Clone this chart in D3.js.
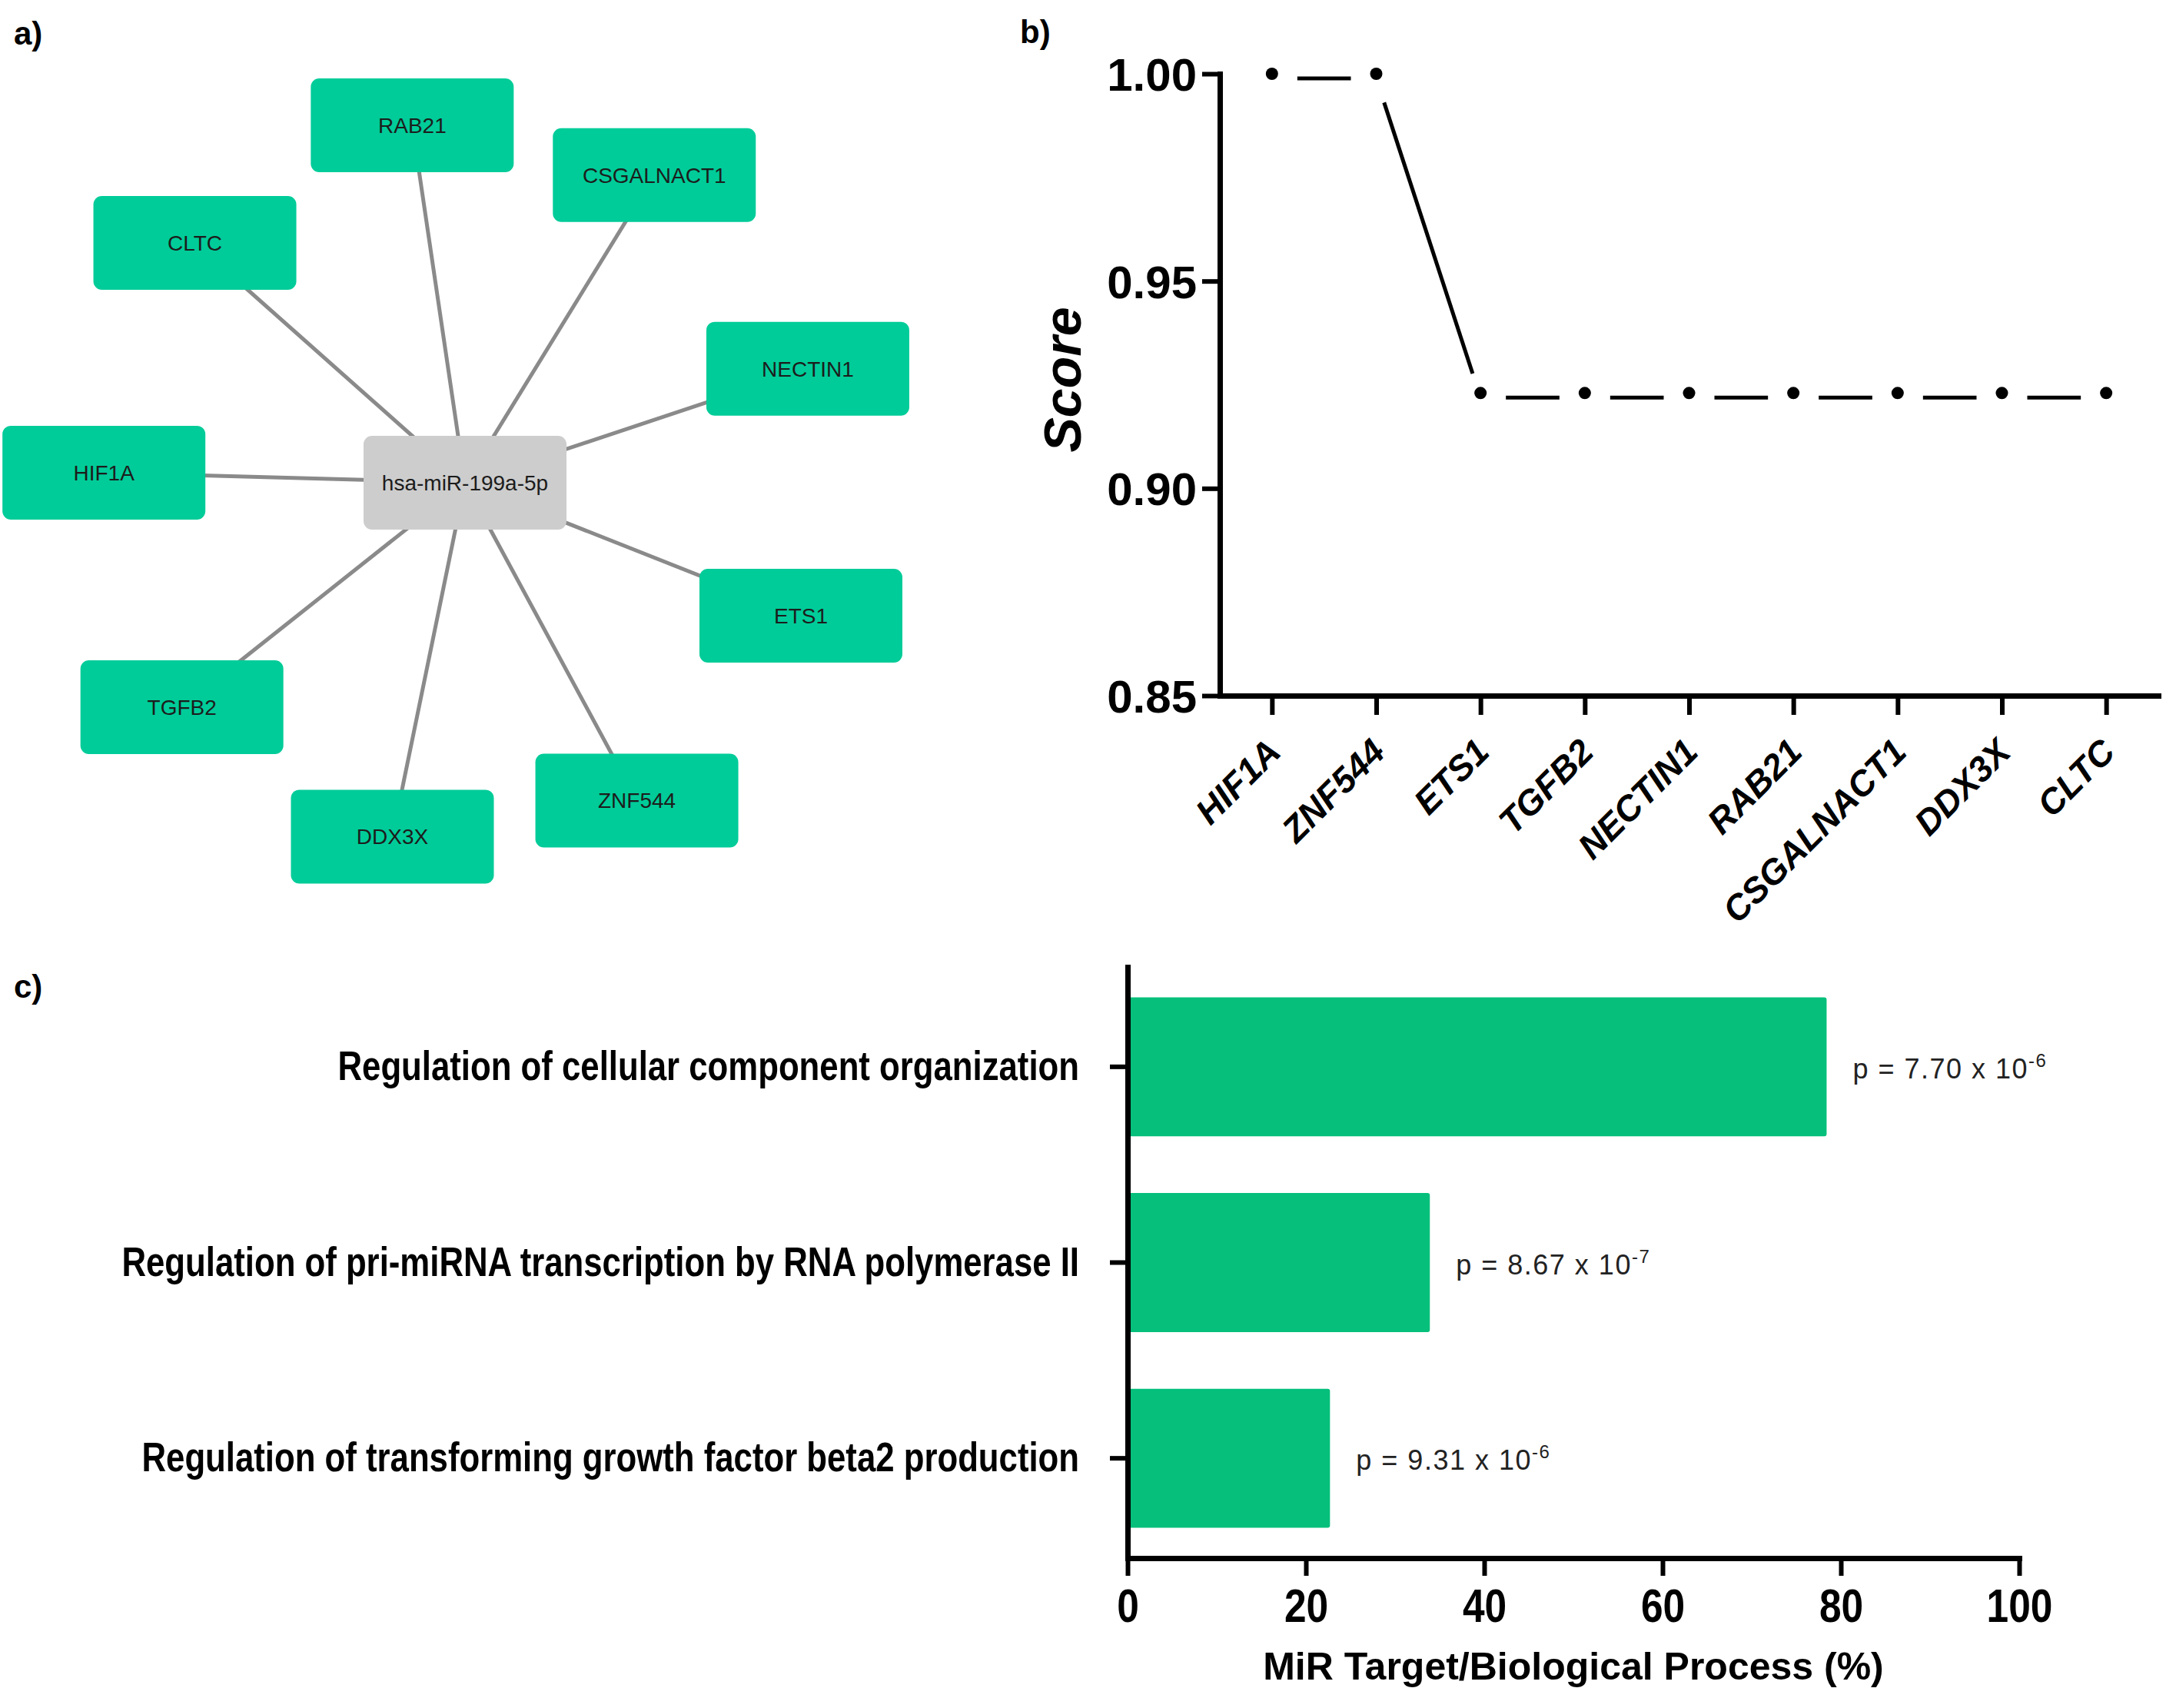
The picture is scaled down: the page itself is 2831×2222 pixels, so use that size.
<!DOCTYPE html>
<html>
<head>
<meta charset="utf-8">
<script src="https://cdn.jsdelivr.net/npm/d3@7"></script>
<style>
  body { margin: 0; background: #fff; }
  svg { display: block; }
</style>
</head>
<body>
<div id="fig"></div>
<script>
// ---- data ----
// a) miRNA - target network (targets in ring order, starting on the left, clockwise)
const mirna = 'hsa-miR-199a-5p';
const ringOrder = ['HIF1A', 'CLTC', 'RAB21', 'CSGALNACT1', 'NECTIN1', 'ETS1', 'ZNF544', 'DDX3X', 'TGFB2'];

// b) target score
const genes  = ['HIF1A', 'ZNF544', 'ETS1', 'TGFB2', 'NECTIN1', 'RAB21', 'CSGALNACT1', 'DDX3X', 'CLTC'];
const scores = [1.00, 1.00, 0.923, 0.923, 0.923, 0.923, 0.923, 0.923, 0.923];
const scoreTicks = [0.85, 0.90, 0.95, 1.00];

// c) biological processes
const processes = [
  'Regulation of cellular component organization',
  'Regulation of pri-miRNA transcription by RNA polymerase II',
  'Regulation of transforming growth factor beta2 production'
];
const percents  = [78.4, 33.9, 22.7];
const pMantissa = ['7.70', '8.67', '9.31'];
const pExponent = ['-6', '-7', '-6'];
const pctTicks  = [0, 20, 40, 60, 80, 100];

// ---- setup ----
const W = 2831, H = 2222;
const SANS = "'Liberation Sans', Arial, sans-serif";

const svg = d3.select('#fig').append('svg')
    .attr('width', W)
    .attr('height', H)
    .style('background', '#fff');

function panelLabel(txt, x, y) {
  svg.append('text')
    .attr('x', x).attr('y', y)
    .attr('font-family', SANS).attr('font-weight', 'bold')
    .attr('font-size', 42)
    .text(txt);
}

// ================= a) network =================
panelLabel('a)', 18, 58);

const cx = 605, cy = 628, ringR = 470;
const boxW = 264, boxH = 122;
const rot = 1.6 * Math.PI / 180;   // small turn of the ring, as in the figure
const angle = d3.scaleLinear()
  .domain([0, ringOrder.length])
  .range([Math.PI + rot, 3 * Math.PI + rot]);

const nodes = ringOrder.map((g, i) => ({
  name: g,
  x: cx + ringR * Math.cos(angle(i)),
  y: cy + ringR * Math.sin(angle(i))
}));

const net = svg.append('g');

net.selectAll('line.edge')
  .data(nodes)
  .join('line')
    .attr('class', 'edge')
    .attr('x1', cx).attr('y1', cy)
    .attr('x2', d => d.x).attr('y2', d => d.y)
    .attr('stroke', '#8a8a8a')
    .attr('stroke-width', 5);

const allNodes = nodes.map(d => ({...d, fill: '#00CC99'}))
  .concat([{name: mirna, x: cx, y: cy, fill: '#CDCDCD'}]);

const ng = net.selectAll('g.node')
  .data(allNodes)
  .join('g')
    .attr('class', 'node')
    .attr('transform', d => `translate(${d.x},${d.y})`);

ng.append('rect')
  .attr('x', -boxW / 2).attr('y', -boxH / 2)
  .attr('width', boxW).attr('height', boxH)
  .attr('rx', 11).attr('ry', 11)
  .attr('fill', d => d.fill);

ng.append('text')
  .attr('text-anchor', 'middle')
  .attr('y', 10)
  .attr('font-family', SANS)
  .attr('font-size', 28)
  .attr('fill', '#1c1c1c')
  .text(d => d.name);

// ================= b) score plot =================
panelLabel('b)', 1327, 56);

const xb = d3.scalePoint().domain(genes).range([1587, 2808]).padding(0.5);
const yb = d3.scaleLinear().domain([0.85, 1.00]).range([905, 96]);

const gbx = svg.append('g')
  .attr('transform', `translate(0,${yb(0.85)})`)
  .call(d3.axisBottom(xb).tickSize(25).tickSizeOuter(0).tickFormat(''));
const gby = svg.append('g')
  .attr('transform', `translate(${xb.range()[0]},0)`)
  .call(d3.axisLeft(yb).tickValues(scoreTicks).tickSize(23).tickSizeOuter(0).tickPadding(7)
        .tickFormat(d3.format('.2f')));

[gbx, gby].forEach(g => {
  g.select('.domain').attr('stroke', '#000').attr('stroke-width', 7).attr('stroke-linecap', 'square');
  g.selectAll('.tick line').attr('stroke', '#000').attr('stroke-width', 6);
});
gby.selectAll('.tick text')
  .attr('font-family', SANS).attr('font-weight', 'bold')
  .attr('font-size', 60).attr('fill', '#000')
  .attr('dy', '0.36em');

// rotated gene labels
svg.append('g').selectAll('text')
  .data(genes)
  .join('text')
    .attr('transform', d => `translate(${xb(d) + 14},${yb(0.85) + 76}) rotate(-45)`)
    .attr('text-anchor', 'end')
    .attr('font-family', SANS).attr('font-weight', 'bold').attr('font-style', 'italic')
    .attr('font-size', 46)
    .text(d => d);

// y title
svg.append('text')
  .attr('transform', `translate(1406,494) rotate(-90)`)
  .attr('text-anchor', 'middle')
  .attr('font-family', SANS).attr('font-weight', 'bold').attr('font-style', 'italic')
  .attr('font-size', 68)
  .text('Score');

// line segments with gaps around the points
const pts = genes.map((g, i) => ({x: xb(g), y: yb(scores[i])}));
const gap = 33, lineShift = 6;
const segs = d3.pairs(pts).map(([a, b]) => {
  const dx = b.x - a.x, dy = b.y - a.y, len = Math.hypot(dx, dy);
  const ux = dx / len, uy = dy / len;
  return {x1: a.x + ux * gap, y1: a.y + uy * gap + lineShift,
          x2: b.x - ux * gap, y2: b.y - uy * gap + lineShift};
});
svg.append('g').selectAll('line')
  .data(segs)
  .join('line')
    .attr('x1', d => d.x1).attr('y1', d => d.y1)
    .attr('x2', d => d.x2).attr('y2', d => d.y2)
    .attr('stroke', '#000').attr('stroke-width', 5);

svg.append('g').selectAll('circle')
  .data(pts)
  .join('circle')
    .attr('cx', d => d.x).attr('cy', d => d.y)
    .attr('r', 8)
    .attr('fill', '#000');

// ================= c) bar chart =================
panelLabel('c)', 18, 1298);

const xc = d3.scaleLinear().domain([0, 100]).range([1467, 2627]);
const yc = d3.scaleBand().domain(processes).range([1258, 2027])
  .paddingInner(0.29).paddingOuter(0.155);

svg.append('g').selectAll('rect')
  .data(processes)
  .join('rect')
    .attr('x', xc(0))
    .attr('y', d => yc(d))
    .attr('width', (d, i) => xc(percents[i]) - xc(0))
    .attr('height', yc.bandwidth())
    .attr('rx', 3)
    .attr('fill', '#05BF7B');

const gcx = svg.append('g')
  .attr('transform', `translate(0,${yc.range()[1]})`)
  .call(d3.axisBottom(xc).tickValues(pctTicks).tickSize(23).tickSizeOuter(0).tickPadding(16));
const gcy = svg.append('g')
  .attr('transform', `translate(${xc(0)},0)`)
  .call(d3.axisLeft(yc).tickSize(23).tickSizeOuter(0).tickPadding(40));

[gcx, gcy].forEach(g => {
  g.select('.domain').attr('stroke', '#000').attr('stroke-width', 7).attr('stroke-linecap', 'square');
  g.selectAll('.tick line').attr('stroke', '#000').attr('stroke-width', 6);
});

// condensed (narrow) bold lettering, as in the figure
const narrowX = 0.83, narrowY = 0.81;
gcx.selectAll('.tick text')
  .attr('font-family', SANS).attr('font-weight', 'bold')
  .attr('font-size', 62).attr('fill', '#000')
  .attr('transform', `scale(${narrowX},1)`);
gcy.selectAll('.tick text')
  .attr('font-family', SANS).attr('font-weight', 'bold')
  .attr('font-size', 54).attr('fill', '#000')
  .attr('x', -(23 + 40) / narrowY)
  .attr('transform', `scale(${narrowY},1)`);

// p-value annotations
const pl = svg.append('g').selectAll('text')
  .data(processes)
  .join('text')
    .attr('x', (d, i) => xc(percents[i]) + 34)
    .attr('y', d => yc(d) + yc.bandwidth() / 2 + 15)
    .attr('font-family', SANS)
    .attr('font-size', 36)
    .attr('letter-spacing', 1.5)
    .attr('fill', '#222');
pl.append('tspan').text((d, i) => `p = ${pMantissa[i]} x 10`);
pl.append('tspan')
  .attr('dy', -15)
  .attr('font-size', 24)
  .text((d, i) => pExponent[i]);

// x title
svg.append('text')
  .attr('x', (xc.range()[0] + xc.range()[1]) / 2)
  .attr('y', 2185)
  .attr('text-anchor', 'middle')
  .attr('font-family', SANS).attr('font-weight', 'bold')
  .attr('font-size', 50)
  .text('MiR Target/Biological Process (%)');
</script>
</body>
</html>
